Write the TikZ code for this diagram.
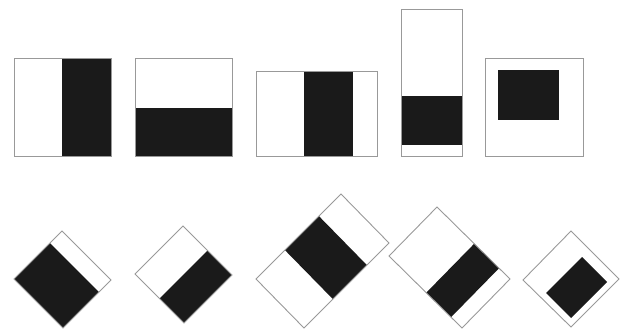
\documentclass[tikz,border=0pt]{standalone}
\usetikzlibrary{calc}
\definecolor{edgegray}{gray}{0.6}
\definecolor{ink}{HTML}{1A1A1A}
\tikzset{
  frame/.style={draw=edgegray, line width=0.9pt, fill=white, line join=miter},
  outline/.style={draw=edgegray, line width=0.9pt, line join=miter},
  band/.style={fill=ink}
}
\begin{document}
\begin{tikzpicture}[x=1pt,y=-1pt]
\useasboundingbox (0,0) rectangle (621,329);
% ---------- top row ----------
% box 1
\fill[band] (62,58) rectangle (111,156);
\draw[outline] (14,58) rectangle (111,156);
% box 2
\fill[band] (135,108) rectangle (232,156);
\draw[outline] (135,58) rectangle (232,156);
% box 3
\fill[band] (304,71) rectangle (353,156);
\draw[outline] (256,71) rectangle (377,156);
% box 4
\fill[band] (401,96) rectangle (462,145);
\draw[outline] (401,9) rectangle (462,156);
% box 5
\fill[band] (498,70) rectangle (559,120);
\draw[outline] (485,58) rectangle (583,156);
% ---------- bottom row ----------
% diamond 1
\coordinate (aL) at (14,279); \coordinate (aT) at (62,231);
\coordinate (aR) at (111,280); \coordinate (aB) at (63,328);
\fill[band] ($(aT)!0.25!(aL)$) -- (aL) -- (aB) -- ($(aR)!0.25!(aB)$) -- cycle;
\draw[outline] (aL) -- (aT) -- (aR) -- (aB) -- cycle;
% diamond 2
\coordinate (bL) at (135,274); \coordinate (bT) at (183,226);
\coordinate (bR) at (232,275); \coordinate (bB) at (184,323);
\fill[band] ($(bT)!0.5!(bR)$) -- (bR) -- (bB) -- ($(bL)!0.5!(bB)$) -- cycle;
\draw[outline] (bL) -- (bT) -- (bR) -- (bB) -- cycle;
% diamond 3
\coordinate (cL) at (256,279); \coordinate (cT) at (341,194);
\coordinate (cR) at (389,243); \coordinate (cB) at (304,328);
\fill[band] ($(cT)!0.26!(cL)$) -- ($(cT)!0.66!(cL)$) -- ($(cR)!0.66!(cB)$) -- ($(cR)!0.26!(cB)$) -- cycle;
\draw[outline] (cL) -- (cT) -- (cR) -- (cB) -- cycle;
% diamond 4
\coordinate (dL) at (389,256); \coordinate (dT) at (437,207);
\coordinate (dR) at (510,279); \coordinate (dB) at (462,328);
\fill[band] ($(dT)!0.51!(dR)$) -- ($(dT)!0.85!(dR)$) -- ($(dL)!0.85!(dB)$) -- ($(dL)!0.51!(dB)$) -- cycle;
\draw[outline] (dL) -- (dT) -- (dR) -- (dB) -- cycle;
% diamond 5
\coordinate (eL) at (523,280); \coordinate (eT) at (571,231);
\coordinate (eR) at (619,279); \coordinate (eB) at (571,327);
\coordinate (fL) at (546,293); \coordinate (fT) at (582,257);
\coordinate (fR) at (607,282); \coordinate (fB) at (571,318);
\draw[outline] (eL) -- (eT) -- (eR) -- (eB) -- cycle;
\fill[band] (fL) -- (fT) -- (fR) -- (fB) -- cycle;
\end{tikzpicture}
\end{document}
